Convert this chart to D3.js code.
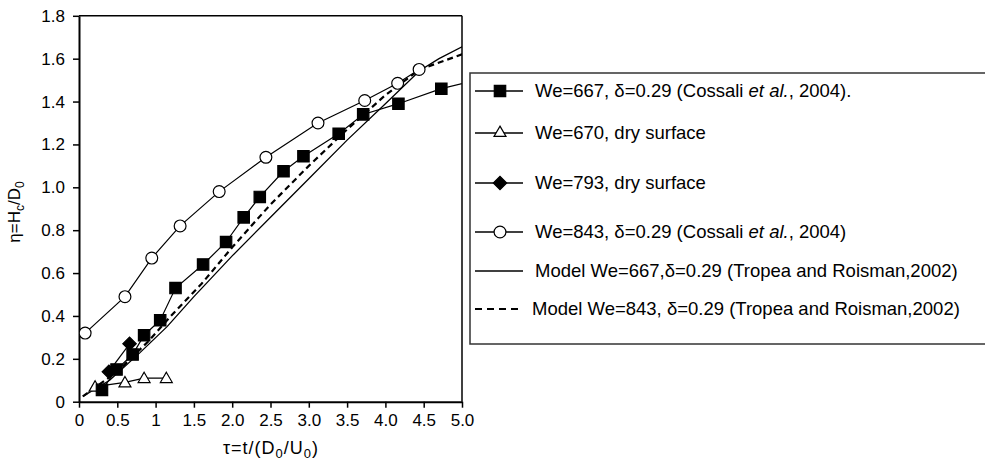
<!DOCTYPE html>
<html lang="en">
<head>
  <meta charset="UTF-8" />
  <title>Crown height vs time</title>
  <style>
    body { margin: 0; padding: 0; background: #fff; }
    svg { display: block; font-family: "Liberation Sans", Arial, sans-serif; }
    .tick text { font-size: 17px; fill: #000; }
  </style>
  <script src="https://d3js.org/d3.v7.min.js"></script>
</head>
<body>
  <svg width="985" height="460"></svg>
  <script>
    // data: [tau, eta]
    const we667 = [[0.30, 0.055], [0.49, 0.15], [0.70, 0.22], [0.85, 0.31], [1.06, 0.38], [1.26, 0.53],
      [1.62, 0.64], [1.92, 0.745], [2.15, 0.86], [2.36, 0.955], [2.67, 1.075], [2.93, 1.145],
      [3.39, 1.25], [3.71, 1.34], [4.17, 1.39], [4.73, 1.46], [5.30, 1.51]];
    const we670dry = [[0.21, 0.07], [0.60, 0.09], [0.85, 0.11], [1.14, 0.11]];
    const we793dry = [[0.39, 0.14], [0.66, 0.27]];
    const we843 = [[0.08, 0.32], [0.60, 0.49], [0.95, 0.67], [1.32, 0.82], [1.83, 0.98], [2.44, 1.14],
      [3.12, 1.30], [3.73, 1.405], [4.16, 1.485], [4.44, 1.55]];
    const model667 = [[0.05, 0.025], [0.4, 0.10], [0.8, 0.23], [1.15, 0.35], [1.5, 0.49], [2.0, 0.68],
      [2.5, 0.86], [3.0, 1.04], [3.5, 1.22], [4.0, 1.39], [4.45, 1.545], [4.7, 1.60], [5.0, 1.655], [5.3, 1.70]];
    const model843 = [[0.05, 0.025], [0.5, 0.14], [0.9, 0.28], [1.2, 0.40], [1.6, 0.55], [2.0, 0.72],
      [2.5, 0.92], [3.0, 1.10], [3.5, 1.27], [4.0, 1.43], [4.45, 1.55], [5.0, 1.62], [5.3, 1.65]];

    const xTicks = [0, 0.5, 1, 1.5, 2, 2.5, 3, 3.5, 4, 4.5, 5];
    const xTickLabels = ["0", "0.5", "1", "1.5", "2.0", "2.5", "3.0", "3.5", "4.0", "4.5", "5.0"];
    const yTicks = [0, 0.2, 0.4, 0.6, 0.8, 1.0, 1.2, 1.4, 1.6, 1.8];
    const yTickLabels = ["0", "0.2", "0.4", "0.6", "0.8", "1.0", "1.2", "1.4", "1.6", "1.8"];

    const legendItems = [
      { sym: "square", dash: null, parts: [["We=667, δ=0.29 (Cossali ", false], ["et al.", true], [", 2004).", false]] },
      { sym: "triangle", dash: null, parts: [["We=670, dry surface", false]] },
      { sym: "diamond", dash: null, parts: [["We=793, dry surface", false]] },
      { sym: "circle", dash: null, parts: [["We=843, δ=0.29 (Cossali ", false], ["et al.", true], [", 2004)", false]] },
      { sym: null, dash: null, parts: [["Model We=667,δ=0.29 (Tropea and Roisman,2002)", false]] },
      { sym: null, dash: "7,5", parts: [["Model We=843, δ=0.29 (Tropea and Roisman,2002)", false]] }
    ];
    const legendY = [91, 133, 183, 232, 271, 309];

    const svg = d3.select("svg");
    const x = d3.scaleLinear().domain([0, 5]).range([79, 462]);
    const y = d3.scaleLinear().domain([0, 1.8]).range([401.7, 15.8]);

    svg.append("defs").append("clipPath").attr("id", "plotClip")
      .append("rect")
      .attr("x", x(0)).attr("y", y(1.8))
      .attr("width", x(5) - x(0)).attr("height", y(0) - y(1.8));

    // frame: top and right borders
    svg.append("line")
      .attr("x1", x(0)).attr("x2", x(5)).attr("y1", y(1.8)).attr("y2", y(1.8))
      .attr("stroke", "#000").attr("stroke-width", 1.5);
    svg.append("line")
      .attr("x1", x(5)).attr("x2", x(5)).attr("y1", y(1.8)).attr("y2", y(0))
      .attr("stroke", "#000").attr("stroke-width", 1.5);

    const xAxis = svg.append("g")
      .attr("transform", `translate(0,${y(0)})`)
      .call(d3.axisBottom(x).tickValues(xTicks).tickFormat((d, i) => xTickLabels[i])
        .tickSizeInner(6).tickSizeOuter(0).tickPadding(6));
    xAxis.select(".domain").attr("stroke-width", 2);
    xAxis.selectAll(".tick line").attr("stroke-width", 1.5);

    const yAxis = svg.append("g")
      .attr("transform", `translate(${x(0)},0)`)
      .call(d3.axisLeft(y).tickValues(yTicks).tickFormat((d, i) => yTickLabels[i])
        .tickSizeInner(6).tickSizeOuter(0).tickPadding(8));
    yAxis.select(".domain").attr("stroke-width", 2);
    yAxis.selectAll(".tick line").attr("stroke-width", 1.5);

    // axis titles
    const yTitle = svg.append("text")
      .attr("transform", "translate(20,212) rotate(-90)")
      .attr("text-anchor", "middle").attr("font-size", 17);
    yTitle.append("tspan").text("η=H");
    yTitle.append("tspan").attr("font-size", 12).attr("dy", 4).text("c");
    yTitle.append("tspan").attr("dy", -4).text("/D");
    yTitle.append("tspan").attr("font-size", 12).attr("dy", 4).text("0");

    const xTitle = svg.append("text")
      .attr("x", 271).attr("y", 454)
      .attr("text-anchor", "middle").attr("font-size", 18).attr("letter-spacing", 1);
    xTitle.append("tspan").text("τ=t/(D");
    xTitle.append("tspan").attr("font-size", 13).attr("dy", 4).text("0");
    xTitle.append("tspan").attr("dy", -4).text("/U");
    xTitle.append("tspan").attr("font-size", 13).attr("dy", 4).text("0");
    xTitle.append("tspan").attr("dy", -4).text(")");

    const plot = svg.append("g").attr("clip-path", "url(#plotClip)");
    const line = d3.line().x(d => x(d[0])).y(d => y(d[1]));

    function drawLine(data, dash, width) {
      plot.append("path").datum(data)
        .attr("d", line)
        .attr("fill", "none").attr("stroke", "#000")
        .attr("stroke-width", width)
        .attr("stroke-dasharray", dash);
    }

    const symbolPath = {
      square: d3.symbol(d3.symbolSquare, 130)(),
      diamond: d3.symbol(d3.symbolSquare, 90)(),
      triangle: d3.symbol(d3.symbolTriangle, 62)(),
      circle: d3.symbol(d3.symbolCircle, 110)()
    };
    const symbolFill = { square: "#000", diamond: "#000", triangle: "#fff", circle: "#fff" };

    function drawMarkers(g, data, sym) {
      g.selectAll(null).data(data).join("path")
        .attr("d", symbolPath[sym])
        .attr("transform", d => `translate(${x(d[0])},${y(d[1])})` + (sym === "diamond" ? " rotate(45)" : "") + (sym === "triangle" ? " translate(0,1)" : ""))
        .attr("fill", symbolFill[sym])
        .attr("stroke", "#000").attr("stroke-width", 1.2);
    }

    drawLine(model667, null, 1.3);
    drawLine(model843, "6,4", 2.2);
    drawLine(we670dry, null, 1.2);
    drawLine(we793dry, null, 1.2);
    drawLine(we667, null, 1.2);
    drawLine(we843, null, 1.2);

    drawMarkers(plot.append("g"), we670dry, "triangle");
    drawMarkers(plot.append("g"), we793dry, "diamond");
    drawMarkers(plot.append("g"), we667, "square");
    drawMarkers(plot.append("g"), we843, "circle");

    // legend
    const legend = svg.append("g");
    legend.append("rect")
      .attr("x", 470).attr("y", 73).attr("width", 540).attr("height", 271)
      .attr("fill", "#fff").attr("stroke", "#333").attr("stroke-width", 1.5);

    legendItems.forEach((item, i) => {
      const ly = legendY[i];
      legend.append("line")
        .attr("x1", 475).attr("x2", 523).attr("y1", ly).attr("y2", ly)
        .attr("stroke", "#000")
        .attr("stroke-width", item.dash ? 2 : 1.3)
        .attr("stroke-dasharray", item.dash);
      if (item.sym) {
        legend.append("path")
          .attr("d", symbolPath[item.sym])
          .attr("transform", `translate(500,${ly})` + (item.sym === "diamond" ? " rotate(45)" : ""))
          .attr("fill", symbolFill[item.sym])
          .attr("stroke", "#000").attr("stroke-width", 1.2);
      }
      const t = legend.append("text")
        .attr("x", i === 5 ? 532 : 535).attr("y", ly + 6)
        .attr("font-size", 18.5);
      item.parts.forEach(p => {
        t.append("tspan").attr("font-style", p[1] ? "italic" : null).text(p[0]);
      });
    });
  </script>
</body>
</html>
